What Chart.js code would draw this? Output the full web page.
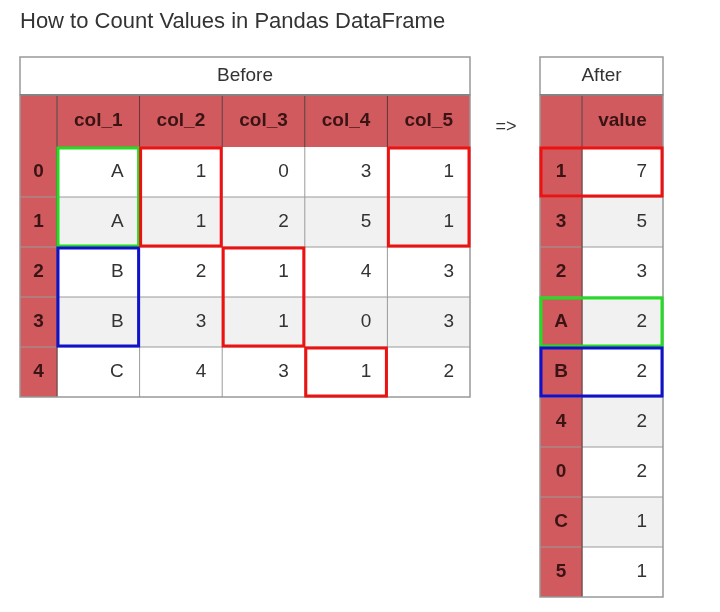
<!DOCTYPE html>
<html><head><meta charset="utf-8">
<script src="https://cdn.jsdelivr.net/npm/chart.js@4"></script>
<style>html,body{margin:0;padding:0;background:#fff}#w{width:720px;height:612px}</style>
</head><body><div id="w"><canvas id="c"></canvas></div>
<script>
const titleText = 'How to Count Values in Pandas DataFrame';
const beforeColumns = ['col_1','col_2','col_3','col_4','col_5'];
const beforeIndex = ['0','1','2','3','4'];
const col_1 = ['A','A','B','B','C'];
const col_2 = [1,1,2,3,4];
const col_3 = [0,2,1,1,3];
const col_4 = [3,5,4,0,1];
const col_5 = [1,1,3,3,2];
const afterColumns = ['value'];
const afterIndex = ['1','3','2','A','B','4','0','C','5'];
const afterValues = [7,5,3,2,2,2,2,1,1];
// highlight boxes: [table, firstCol, lastCol, firstRow, lastRow, color] (col -1 = index column)
const highlights = [
  ['before',0,0,0,1,'#22dd22'],['before',0,0,2,3,'#1111cc'],['before',1,1,0,1,'#ee1111'],
  ['before',2,2,2,3,'#ee1111'],['before',3,3,4,4,'#ee1111'],['before',4,4,0,1,'#ee1111'],
  ['after',-1,0,0,0,'#ee1111'],['after',-1,0,3,3,'#22dd22'],['after',-1,0,4,4,'#1111cc']
];

const beforeData = [col_1,col_2,col_3,col_4,col_5];
const afterData = [afterValues];
const tables = {
  before:{caption:'Before', x0:20, idxW:37, colW:82.6, cols:beforeColumns, index:beforeIndex, data:beforeData},
  after:{caption:'After', x0:540, idxW:42, colW:81, cols:afterColumns, index:afterIndex, data:afterData}
};
const Y0=57, CAP_H=38, HEAD_H=52, ROW_H=50;
const RED='#d05a5e', TXT='#3a1414', FONT='"Liberation Sans", Arial, sans-serif';

function colEdges(t){const e=[t.x0,t.x0+t.idxW];t.cols.forEach((c,i)=>e.push(t.x0+t.idxW+(i+1)*t.colW));return e;}

const tablePlugin = {
  id:'tables',
  afterDraw(chart){
    const ctx=chart.ctx, sx=chart.scales.x, sy=chart.scales.y;
    const X=v=>sx.getPixelForValue(v), Y=v=>sy.getPixelForValue(v);
    ctx.save();
    ctx.fillStyle='#333';ctx.font='22px '+FONT;ctx.textBaseline='middle';ctx.textAlign='left';
    ctx.fillText(titleText,X(20),Y(22));
    ctx.font='18px '+FONT;ctx.fillStyle='#333';ctx.textAlign='center';
    ctx.fillText('=>',X(506),Y(127));
    for(const key in tables){
      const t=tables[key], e=colEdges(t), xr=e[e.length-1];
      const hy=Y0+CAP_H, ry=hy+HEAD_H;
      // caption
      ctx.fillStyle='#fff';ctx.fillRect(X(t.x0),Y(Y0),X(xr)-X(t.x0),Y(hy)-Y(Y0));
      ctx.strokeStyle='#999';ctx.lineWidth=1.5;ctx.strokeRect(X(t.x0),Y(Y0),X(xr)-X(t.x0),Y(hy)-Y(Y0));
      ctx.fillStyle='#333';ctx.font='19px '+FONT;ctx.textAlign='center';
      ctx.fillText(t.caption,X((t.x0+xr)/2),Y(Y0+CAP_H/2));
      // header
      ctx.fillStyle=RED;ctx.fillRect(X(t.x0),Y(hy),X(xr)-X(t.x0),Y(ry)-Y(hy));
      ctx.font='bold 19px '+FONT;ctx.fillStyle=TXT;
      t.cols.forEach((c,i)=>ctx.fillText(c,X((e[i+1]+e[i+2])/2),Y(hy+HEAD_H/2)));
      // rows
      t.index.forEach((idx,r)=>{
        const y=ry+r*ROW_H;
        ctx.fillStyle=RED;ctx.fillRect(X(e[0]),Y(y),X(e[1])-X(e[0]),Y(y+ROW_H)-Y(y));
        ctx.fillStyle=r%2?'#f1f1f1':'#fff';ctx.fillRect(X(e[1]),Y(y),X(xr)-X(e[1]),Y(y+ROW_H)-Y(y));
        ctx.fillStyle=TXT;ctx.font='bold 19px '+FONT;ctx.textAlign='center';
        ctx.fillText(idx,X((e[0]+e[1])/2),Y(y+ROW_H/2));
        ctx.fillStyle='#333';ctx.font='19px '+FONT;ctx.textAlign='right';
        t.data.forEach((col,ci)=>ctx.fillText(String(col[r]),X(e[ci+2]-16),Y(y+ROW_H/2)));
      });
      const yb=ry+t.index.length*ROW_H;
      // grid lines
      ctx.strokeStyle='#9a9a9a';ctx.lineWidth=1;ctx.beginPath();
      for(let r=1;r<t.index.length;r++){const y=ry+r*ROW_H;ctx.moveTo(X(t.x0),Y(y));ctx.lineTo(X(xr),Y(y));}
      for(let i=1;i<e.length-1;i++){ctx.moveTo(X(e[i]),Y(hy));ctx.lineTo(X(e[i]),Y(yb));}
      ctx.stroke();
      ctx.strokeStyle='#6a2a2a';ctx.beginPath();
      ctx.moveTo(X(e[1]),Y(hy));ctx.lineTo(X(e[1]),Y(yb));
      for(let i=2;i<e.length-1;i++){ctx.moveTo(X(e[i]),Y(hy));ctx.lineTo(X(e[i]),Y(ry));}
      ctx.stroke();
      ctx.strokeStyle='#444';ctx.lineWidth=2;ctx.beginPath();ctx.moveTo(X(t.x0),Y(hy));ctx.lineTo(X(xr),Y(hy));ctx.stroke();
      ctx.strokeStyle='#999';ctx.lineWidth=1.5;ctx.strokeRect(X(t.x0),Y(hy),X(xr)-X(t.x0),Y(yb)-Y(hy));
    }
    // highlights
    highlights.forEach(([k,c0,c1,r0,r1,col])=>{
      const t=tables[k],e=colEdges(t),ry=Y0+CAP_H+HEAD_H;
      const x0=e[c0+1]+1,x1=e[c1+2]-1,y0=ry+r0*ROW_H+1,y1=ry+(r1+1)*ROW_H-1;
      ctx.strokeStyle=col;ctx.lineWidth=3;ctx.strokeRect(X(x0),Y(y0),X(x1)-X(x0),Y(y1)-Y(y0));
    });
    ctx.restore();
  }
};

new Chart(document.getElementById('c'),{
  type:'scatter',
  data:{datasets:[{data:[]}]},
  options:{responsive:true,maintainAspectRatio:false,animation:false,
    layout:{padding:0},
    plugins:{legend:{display:false},tooltip:{enabled:false},title:{display:false}},
    scales:{x:{type:'linear',min:0,max:720,display:false},y:{type:'linear',min:0,max:612,reverse:true,display:false}}},
  plugins:[tablePlugin]
});
</script></body></html>
